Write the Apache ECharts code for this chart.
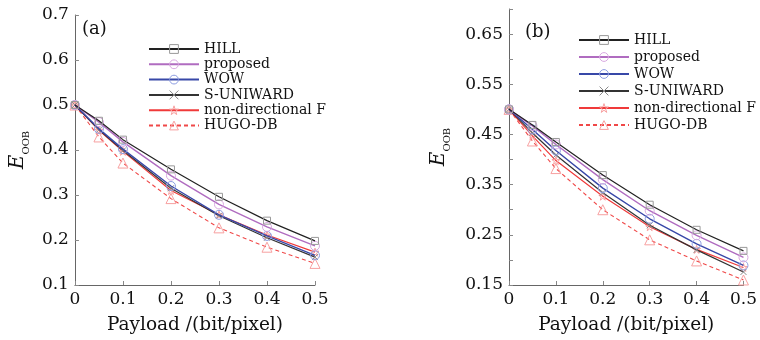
<!DOCTYPE html>
<html>
<head>
<meta charset="utf-8">
<script src="https://cdn.jsdelivr.net/npm/echarts@6/dist/echarts.min.js"></script>
<style>
  html, body { margin: 0; padding: 0; background: #fff; }
  #wrap { width: 760px; height: 340px; position: relative; }
  .pane { position: absolute; top: 0; width: 380px; height: 340px; }
</style>
</head>
<body>
<div id="wrap">
  <div id="ca" class="pane" style="left:0"></div>
  <div id="cb" class="pane" style="left:380px"></div>
</div>
<script>
const payload = [0, 0.05, 0.1, 0.2, 0.3, 0.4, 0.5];
const names = ['HILL', 'proposed', 'WOW', 'S-UNIWARD', 'non-directional F', 'HUGO-DB'];

// panel (a)
const hillA = [0.5, 0.465, 0.423, 0.357, 0.296, 0.243, 0.198];
const propA = [0.5, 0.462, 0.418, 0.343, 0.279, 0.229, 0.187];
const wowA  = [0.5, 0.447, 0.402, 0.320, 0.256, 0.209, 0.166];
const suniA = [0.5, 0.445, 0.399, 0.315, 0.254, 0.205, 0.162];
const nondA = [0.5, 0.444, 0.397, 0.310, 0.256, 0.211, 0.173];
const hugoA = [0.5, 0.429, 0.371, 0.292, 0.227, 0.184, 0.148];

// panel (b)
const hillB = [0.5, 0.469, 0.435, 0.369, 0.310, 0.260, 0.218];
const propB = [0.5, 0.467, 0.430, 0.360, 0.298, 0.249, 0.205];
const wowB  = [0.5, 0.460, 0.418, 0.343, 0.282, 0.232, 0.189];
const suniB = [0.5, 0.453, 0.409, 0.334, 0.269, 0.220, 0.176];
const nondB = [0.5, 0.447, 0.398, 0.327, 0.266, 0.221, 0.185];
const hugoB = [0.5, 0.437, 0.382, 0.300, 0.240, 0.198, 0.160];

const yTicksB = ['0.15', '0.25', '0.35', '0.45', '0.55', '0.65'];

const serif = 'DejaVu Serif';
const xMark = 'path://M0,0L10,10M10,0L0,10';
const star = 'path://M5,0L6.2,3.6L10,3.6L6.9,5.8L8.1,9.5L5,7.2L1.9,9.5L3.1,5.8L0,3.6L3.8,3.6Z';
const clear = 'rgba(255,255,255,0)';

const styles = [
  { line: '#222', mark: '#999', sym: 'rect', size: 7, width: 1.2 },
  { line: '#b06cc0', mark: '#d8a8e0', sym: 'circle', size: 9, width: 1.4 },
  { line: '#3848a8', mark: '#8c9ce0', sym: 'circle', size: 9, width: 1.4 },
  { line: '#333', mark: '#888', sym: xMark, size: 6, width: 1.2 },
  { line: '#f03a3a', mark: '#f7a0a0', sym: star, size: 8, width: 1.2 },
  { line: '#f04848', mark: '#f7a0a0', sym: 'triangle', size: 10, width: 1.1, dashed: true }
];

function buildSeries(data) {
  return data.map((vals, i) => {
    const s = styles[i];
    return {
      name: names[i],
      type: 'line',
      data: payload.map((x, j) => [x, vals[j]]),
      symbol: s.sym,
      symbolSize: s.size,
      showAllSymbol: true,
      lineStyle: { color: s.line, width: s.width, type: s.dashed ? [4, 3] : 'solid' },
      itemStyle: { color: clear, borderColor: s.mark, borderWidth: 1 },
      emphasis: { disabled: true },
      z: 10 - i
    };
  });
}

function makeOption(p) {
  return {
    animation: false,
    textStyle: { fontFamily: serif },
    graphic: [{
      type: 'text', left: p.tagX, top: p.tagY,
      style: { text: p.tag, font: '18px ' + serif, fill: '#111' }
    }],
    legend: {
      orient: 'vertical', left: p.legX, top: p.legY,
      itemWidth: 50, itemHeight: 11, itemGap: p.legGap,
      textStyle: { fontFamily: serif, fontSize: 14, color: '#111' },
      data: names.map((n, i) => ({
        name: n,
        itemStyle: { color: clear, borderColor: styles[i].mark, borderWidth: 1 }
      }))
    },
    grid: { left: p.gl, right: p.gr, top: p.gt, bottom: 48 },
    xAxis: {
      type: 'value', min: 0, max: 0.5, interval: 0.1,
      name: 'Payload /(bit/pixel)', nameLocation: 'middle', nameGap: 31,
      nameTextStyle: { fontFamily: serif, fontSize: 18.5, color: '#111' },
      axisLine: { lineStyle: { color: '#666' } },
      axisTick: { inside: true, length: 4, lineStyle: { color: '#888' } },
      axisLabel: { fontSize: 17, color: '#111', margin: 6 },
      splitLine: { show: false }
    },
    yAxis: {
      type: 'value', min: p.ymin, max: p.ymax, interval: p.yint,
      name: '{e|E}{s|OOB}', nameLocation: 'middle', nameGap: p.nameGap, nameRotate: 90,
      nameTextStyle: {
        rich: {
          e: { fontFamily: serif, fontStyle: 'italic', fontSize: 20, color: '#111', verticalAlign: 'bottom', lineHeight: 22 },
          s: { fontFamily: serif, fontSize: 10, color: '#111', verticalAlign: 'bottom', lineHeight: 11, padding: [0, 0, -3, 0] }
        }
      },
      axisLine: { show: true, lineStyle: { color: '#666' } },
      axisTick: { show: true, inside: true, length: 4, lineStyle: { color: '#888' } },
      axisLabel: { fontSize: 17, color: '#111', margin: 6, formatter: p.yfmt },
      splitLine: { show: false }
    },
    series: buildSeries(p.data)
  };
}

const optA = makeOption({
  tag: '(a)', tagX: 82, tagY: 20,
  legX: 143, legY: 37, legGap: 1.3,
  gl: 73, gr: 65, gt: 15,
  ymin: 0.1, ymax: 0.7, yint: 0.1, nameGap: 46,
  yfmt: v => (+v).toFixed(1),
  data: [hillA, propA, wowA, suniA, nondA, hugoA]
});

const optB = makeOption({
  tag: '(b)', tagX: 145, tagY: 23,
  legX: 193, legY: 28, legGap: 3,
  gl: 129, gr: 15, gt: 9,
  ymin: 0.15, ymax: 0.7, yint: 0.05, nameGap: 60,
  yfmt: v => { const t = (+v).toFixed(2); return yTicksB.indexOf(t) >= 0 ? t : ''; },
  data: [hillB, propB, wowB, suniB, nondB, hugoB]
});

echarts.init(document.getElementById('ca')).setOption(optA);
echarts.init(document.getElementById('cb')).setOption(optB);
</script>
</body>
</html>
